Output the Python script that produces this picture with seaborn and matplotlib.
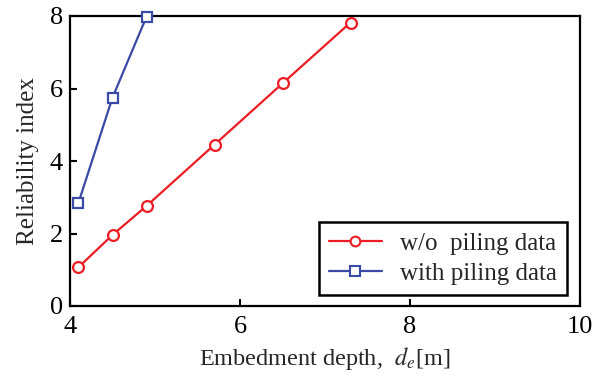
import pandas as pd
import matplotlib
matplotlib.use("Agg")
import matplotlib.pyplot as plt
from matplotlib.lines import Line2D
import seaborn as sns

# Embedment depth [m] and reliability index for each case
depth_without = [4.1, 4.5, 4.9, 5.7, 6.5, 7.3]
beta_without = [1.07, 1.96, 2.76, 4.45, 6.14, 7.82]
depth_with = [4.1, 4.5, 4.9]
beta_with = [2.85, 5.75, 7.98]

label_without = "w/o  piling data"
label_with = "with piling data"

x_ticks = [4, 6, 8, 10]
y_ticks = [0, 2, 4, 6, 8]

sns.set_theme(style="ticks")
plt.rcParams["font.family"] = ["Liberation Serif", "DejaVu Serif"]
plt.rcParams["mathtext.fontset"] = "stix"

fig = plt.figure(figsize=(6.03, 3.81), dpi=100)
ax = fig.add_axes([70 / 603, 1 - 306 / 381, 510 / 603, 290 / 381])

red = "#ec1c24"
blue = "#3a4aa6"

series = [
    (depth_without, beta_without, red, "o", 7.8),
    (depth_with, beta_with, blue, "s", 7.4),
]
for xs, ys, color, marker, ms in series:
    sns.lineplot(
        x=xs, y=ys, color=color, marker=marker, markersize=ms,
        markerfacecolor="white", markeredgecolor=color, markeredgewidth=1.6,
        linewidth=1.6, sort=False, ax=ax, clip_on=False, zorder=3,
    )

ax.set_xlim(4, 10)
ax.set_ylim(0, 8)
ax.set_xticks(x_ticks)
ax.set_yticks(y_ticks)
ax.tick_params(direction="in", length=5, width=1.5, labelsize=19,
               colors="black")
ax.tick_params(axis="x", pad=7)
ax.tick_params(axis="y", pad=5)
for s in ax.spines.values():
    s.set_linewidth(1.6)
    s.set_color("black")

ax.set_xlabel(r"Embedment depth,  $d_e$[m]", fontsize=17.5, labelpad=5)
ax.set_ylabel("Reliability index", fontsize=18, labelpad=8)

handles = [
    Line2D([], [], color=red, marker="o", markersize=7,
           markerfacecolor="white", markeredgewidth=1.5, linewidth=1.6),
    Line2D([], [], color=blue, marker="s", markersize=6.5,
           markerfacecolor="white", markeredgewidth=1.5, linewidth=1.6),
]
leg = ax.legend(handles, [label_without, label_with], loc="lower right",
                bbox_to_anchor=(0.975, 0.038), fontsize=18, fancybox=False,
                framealpha=1, edgecolor="black", handlelength=2.1,
                handletextpad=0.75, borderpad=0.4, labelspacing=0.3,
                borderaxespad=0)
leg.get_frame().set_linewidth(1.8)

fig.savefig("out.png", dpi=100)
